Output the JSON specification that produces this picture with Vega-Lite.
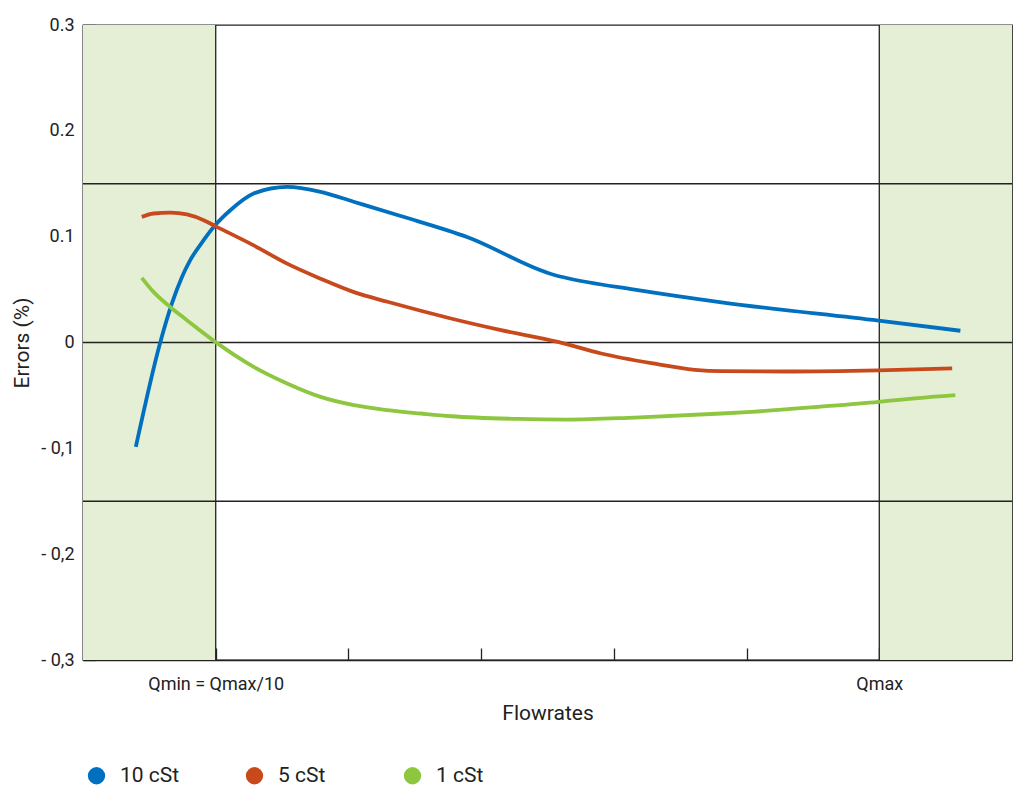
{
  "$schema": "https://vega.github.io/schema/vega-lite/v6.json",
  "width": 929,
  "height": 635,
  "autosize": "none",
  "padding": {"left": 83, "top": 25, "right": 5, "bottom": 138},
  "background": "white",
  "config": {
    "font": "Roboto, sans-serif",
    "view": {"stroke": "#222", "strokeWidth": 1.3},
    "axis": {"grid": false, "domainColor": "#222", "tickColor": "#222", "labelColor": "#222", "titleColor": "#222", "domainWidth": 1.3, "tickWidth": 1.3}
  },
  "datasets": {
    "curves": [
      {"series": "10 cSt", "x": 0.398, "y": -0.0987},
      {"series": "10 cSt", "x": 0.582, "y": 0.0},
      {"series": "10 cSt", "x": 0.670, "y": 0.0369},
      {"series": "10 cSt", "x": 0.745, "y": 0.0617},
      {"series": "10 cSt", "x": 0.808, "y": 0.0778},
      {"series": "10 cSt", "x": 0.909, "y": 0.0967},
      {"series": "10 cSt", "x": 0.997, "y": 0.111},
      {"series": "10 cSt", "x": 1.110, "y": 0.125},
      {"series": "10 cSt", "x": 1.286, "y": 0.1408},
      {"series": "10 cSt", "x": 1.538, "y": 0.1471},
      {"series": "10 cSt", "x": 1.79, "y": 0.1424},
      {"series": "10 cSt", "x": 2.039, "y": 0.1330},
      {"series": "10 cSt", "x": 2.394, "y": 0.1195},
      {"series": "10 cSt", "x": 2.898, "y": 0.0995},
      {"series": "10 cSt", "x": 3.552, "y": 0.0638},
      {"series": "10 cSt", "x": 3.653, "y": 0.0607},
      {"series": "10 cSt", "x": 4.156, "y": 0.0500},
      {"series": "10 cSt", "x": 4.811, "y": 0.0380},
      {"series": "10 cSt", "x": 5.995, "y": 0.0206},
      {"series": "10 cSt", "x": 6.611, "y": 0.0111},
      {"series": "5 cSt", "x": 0.443, "y": 0.1187},
      {"series": "5 cSt", "x": 0.531, "y": 0.1219},
      {"series": "5 cSt", "x": 0.657, "y": 0.1228},
      {"series": "5 cSt", "x": 0.783, "y": 0.121},
      {"series": "5 cSt", "x": 0.909, "y": 0.1156},
      {"series": "5 cSt", "x": 0.997, "y": 0.11},
      {"series": "5 cSt", "x": 1.286, "y": 0.0918},
      {"series": "5 cSt", "x": 1.538, "y": 0.0745},
      {"series": "5 cSt", "x": 1.79, "y": 0.0603},
      {"series": "5 cSt", "x": 2.042, "y": 0.0476},
      {"series": "5 cSt", "x": 2.294, "y": 0.0385},
      {"series": "5 cSt", "x": 2.545, "y": 0.0300},
      {"series": "5 cSt", "x": 2.772, "y": 0.0227},
      {"series": "5 cSt", "x": 3.15, "y": 0.0117},
      {"series": "5 cSt", "x": 3.578, "y": 0.0006},
      {"series": "5 cSt", "x": 3.905, "y": -0.0104},
      {"series": "5 cSt", "x": 4.282, "y": -0.0195},
      {"series": "5 cSt", "x": 4.61, "y": -0.0258},
      {"series": "5 cSt", "x": 4.811, "y": -0.0271},
      {"series": "5 cSt", "x": 5.287, "y": -0.0274},
      {"series": "5 cSt", "x": 5.995, "y": -0.0263},
      {"series": "5 cSt", "x": 6.549, "y": -0.0244},
      {"series": "1 cSt", "x": 0.443, "y": 0.0611},
      {"series": "1 cSt", "x": 0.531, "y": 0.0478},
      {"series": "1 cSt", "x": 0.657, "y": 0.0336},
      {"series": "1 cSt", "x": 0.783, "y": 0.0211},
      {"series": "1 cSt", "x": 0.997, "y": 0.0006},
      {"series": "1 cSt", "x": 1.286, "y": -0.023},
      {"series": "1 cSt", "x": 1.538, "y": -0.0387},
      {"series": "1 cSt", "x": 1.79, "y": -0.0514},
      {"series": "1 cSt", "x": 2.042, "y": -0.0592},
      {"series": "1 cSt", "x": 2.294, "y": -0.0639},
      {"series": "1 cSt", "x": 2.545, "y": -0.0671},
      {"series": "1 cSt", "x": 2.772, "y": -0.0697},
      {"series": "1 cSt", "x": 3.276, "y": -0.0722},
      {"series": "1 cSt", "x": 3.653, "y": -0.0728},
      {"series": "1 cSt", "x": 4.156, "y": -0.0709},
      {"series": "1 cSt", "x": 4.811, "y": -0.0671},
      {"series": "1 cSt", "x": 5.038, "y": -0.0655},
      {"series": "1 cSt", "x": 5.541, "y": -0.0608},
      {"series": "1 cSt", "x": 5.995, "y": -0.0561},
      {"series": "1 cSt", "x": 6.171, "y": -0.0539},
      {"series": "1 cSt", "x": 6.573, "y": -0.0498}
    ],
    "zones": [{"x0": 0, "x1": 1}, {"x0": 6, "x1": 7}],
    "hlines": [{"v": 0.15}, {"v": 0}, {"v": -0.15}],
    "vlines": [{"v": 1}, {"v": 6}]
  },
  "layer": [
    {
      "data": {"name": "zones"},
      "mark": {"type": "rect", "fill": "#e4efd6", "stroke": null},
      "encoding": {
        "x": {
          "field": "x0", "type": "quantitative", "scale": {"domain": [0, 7], "nice": false, "zero": false},
          "axis": {
            "title": "Flowrates", "titleFontSize": 21, "titleFontWeight": "normal", "titlePadding": 9,
            "values": [1, 2, 3, 4, 5, 6], "tickSize": -12, "labelPadding": 27, "labelFontSize": 18,
            "labelExpr": "datum.value == 1 ? 'Qmin = Qmax/10' : datum.value == 6 ? 'Qmax' : ''"
          }
        },
        "x2": {"field": "x1"},
        "y": {
          "datum": -0.3, "type": "quantitative", "scale": {"domain": [-0.3, 0.3], "nice": false, "zero": false},
          "axis": {
            "title": "Errors (%)", "titleFontSize": 21, "titleFontWeight": "normal", "titlePadding": 8,
            "values": [-0.3, -0.25, -0.2, -0.15, -0.1, -0.05, 0, 0.05, 0.1, 0.15, 0.2, 0.25, 0.3],
            "tickSize": -12, "labelPadding": 21, "labelFontSize": 18, "labelFlush": false,
            "labelExpr": "abs(datum.value-0.3)<0.001 ? '0.3' : abs(datum.value-0.2)<0.001 ? '0.2' : abs(datum.value-0.1)<0.001 ? '0.1' : abs(datum.value)<0.001 ? '0' : abs(datum.value+0.1)<0.001 ? '- 0,1' : abs(datum.value+0.2)<0.001 ? '- 0,2' : abs(datum.value+0.3)<0.001 ? '- 0,3' : ''"
          }
        },
        "y2": {"datum": 0.3}
      }
    },
    {
      "data": {"name": "hlines"},
      "mark": {"type": "rule", "color": "#222", "strokeWidth": 1.3},
      "encoding": {"y": {"field": "v", "type": "quantitative"}}
    },
    {
      "data": {"name": "vlines"},
      "mark": {"type": "rule", "color": "#222", "strokeWidth": 1.3},
      "encoding": {"x": {"field": "v", "type": "quantitative"}}
    },
    {
      "data": {"name": "curves"},
      "mark": {"type": "line", "strokeWidth": 3.8, "interpolate": "monotone"},
      "encoding": {
        "x": {"field": "x", "type": "quantitative"},
        "y": {"field": "y", "type": "quantitative"},
        "color": {
          "field": "series", "type": "nominal",
          "scale": {"domain": ["10 cSt", "5 cSt", "1 cSt"], "range": ["#0070bf", "#c84a1c", "#8dc63f"]},
          "legend": {
            "title": null, "orient": "none", "legendX": 3, "legendY": 740, "direction": "horizontal",
            "columns": 3, "gridAlign": "all", "columnPadding": 64,
            "symbolType": "circle", "symbolSize": 300, "symbolStrokeWidth": 0,
            "labelFontSize": 21, "labelOffset": 13, "labelColor": "#222",
            "encode": {"symbols": {"update": {"fill": {"scale": "color", "field": "value"}, "stroke": {"value": "transparent"}, "opacity": {"value": 1}}}}
          }
        }
      }
    }
  ]
}
